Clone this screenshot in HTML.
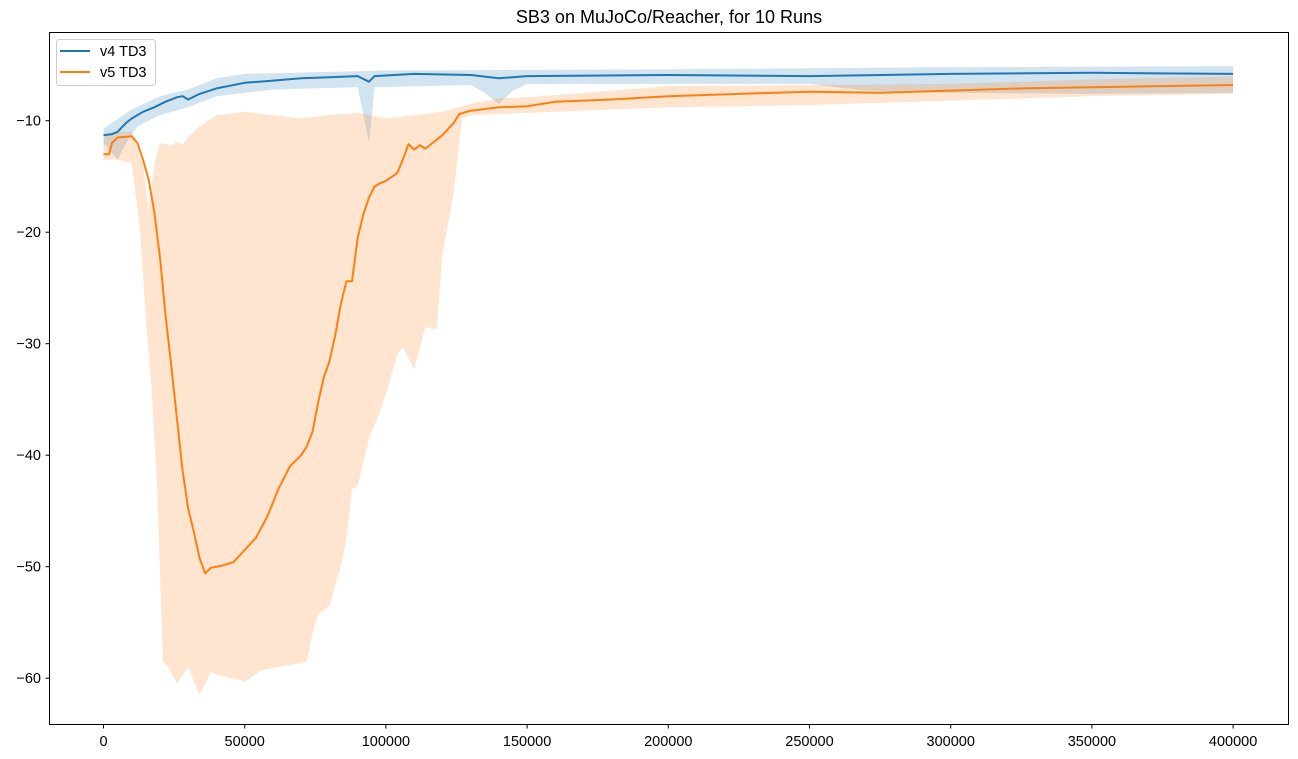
<!DOCTYPE html>
<html><head><meta charset="utf-8"><style>
body{margin:0;background:#fff;}
svg{display:block;font-family:"Liberation Sans","DejaVu Sans",sans-serif;}
</style></head><body>
<svg id="chart" width="1298" height="759" viewBox="0 0 1298 759">
<rect width="1298" height="759" fill="#fff"/>
<text x="669" y="23" text-anchor="middle" font-size="18">SB3 on MuJoCo/Reacher, for 10 Runs</text>
<g id="bands"></g><g id="lines"></g><g id="axes"></g>
<g>
<rect x="56.5" y="39.5" width="99" height="46" rx="3" fill="#fff" fill-opacity="0.8" stroke="#ccc"/>
<line x1="60" y1="51" x2="90" y2="51" stroke="#1f77b4" stroke-width="2"/>
<text x="100" y="56" font-size="14.5">v4 TD3</text>
<line x1="60" y1="72" x2="90" y2="72" stroke="#ff7f0e" stroke-width="2"/>
<text x="100" y="77" font-size="14.5">v5 TD3</text>
</g>
</svg>
<script>
const xTicks=[0,50000,100000,150000,200000,250000,300000,350000,400000];
const yTicks=[-10,-20,-30,-40,-50,-60];
const v5Steps=[0,2000,3000,5000,10000,12000,14000,16000,18000,20000,22000,24000,26000,28000,30000,32000,34000,36000,38000,42000,46000,50000,54000,58000,62000,66000,70000,72000,74000,76000,78000,80000,82000,84000,86000,88000,90000,92000,94000,96000,98000,100000,104000,106000,108000,110000,112000,114000,116000,120000,124000,126000,130000,140000,150000,160000,170000,180000,200000,225000,250000,275000,300000,325000,350000,375000,400000];
const v5Mean=[-13,-13,-12,-11.5,-11.4,-12,-13.5,-15.3,-18.2,-22.3,-27.5,-32,-36.7,-41.4,-44.8,-46.9,-49.2,-50.6,-50.1,-49.9,-49.6,-48.5,-47.4,-45.5,-43,-41,-40,-39.2,-37.9,-35.3,-33,-31.6,-29.3,-26.5,-24.4,-24.4,-20.5,-18.4,-16.9,-15.9,-15.6,-15.4,-14.7,-13.5,-12.1,-12.6,-12.2,-12.5,-12.1,-11.3,-10.2,-9.4,-9.1,-8.8,-8.7,-8.3,-8.2,-8.1,-7.8,-7.6,-7.4,-7.5,-7.3,-7.1,-7.0,-6.9,-6.8];
const v5UpSteps=[0,5000,10000,12000,14000,16000,18000,20000,24000,26000,28000,30000,34000,40000,50000,60000,70000,80000,90000,100000,110000,120000,130000,140000,150000,200000,250000,300000,350000,400000];
const v5Upper=[-11.5,-11,-11,-12.5,-14,-18,-14,-12,-12.2,-11.9,-12.1,-11.5,-10.5,-9.5,-9.2,-9.5,-9.8,-9.5,-9.3,-9.8,-9.5,-9.2,-8.5,-8.0,-7.9,-6.9,-6.8,-6.7,-6.3,-6.0];
const v5LoSteps=[0,5000,10000,13000,15000,17000,19000,21000,23000,26000,30000,34000,38000,42000,50000,56000,62000,68000,72000,74000,76000,80000,84000,86000,88000,90000,94000,98000,100000,104000,106000,110000,114000,118000,120000,124000,127000,130000,150000,200000,250000,300000,350000,400000];
const v5Lower=[-13.5,-13.5,-13.8,-20,-27.8,-34,-42.8,-58.5,-59,-60.5,-59,-61.5,-59.5,-59.8,-60.3,-59.3,-59,-58.7,-58.5,-56,-54.3,-53.5,-50,-47.5,-43,-42.8,-38.5,-36,-34.5,-31,-30.3,-32.3,-28.5,-28.7,-22,-16.5,-9.8,-9.5,-9.3,-8.8,-8.6,-8.2,-7.8,-7.6];
const v4Steps=[0,3000,5000,8000,10000,14000,18000,22000,26000,28000,30000,34000,40000,50000,60000,70000,80000,90000,94000,96000,110000,130000,140000,150000,200000,250000,300000,350000,400000];
const v4Mean=[-11.3,-11.2,-11,-10.2,-9.8,-9.2,-8.8,-8.3,-7.9,-7.8,-8.1,-7.6,-7.1,-6.6,-6.4,-6.2,-6.1,-6.0,-6.5,-6.0,-5.8,-5.9,-6.2,-6.0,-5.9,-6.0,-5.8,-5.7,-5.8];
const v4UpSteps=[0,10000,20000,30000,40000,50000,100000,200000,300000,400000];
const v4Upper=[-10.7,-9,-7.8,-7.2,-6.2,-5.8,-5.5,-5.4,-5.2,-5.1];
const v4LoSteps=[0,5000,8000,12000,20000,30000,40000,60000,90000,94000,96000,130000,135000,140000,145000,150000,250000,270000,300000,350000,400000];
const v4Lower=[-12,-13.5,-12,-10.5,-9.5,-8.8,-7.8,-7.2,-7,-12,-7,-6.8,-7.5,-8.5,-7.3,-6.7,-6.7,-7.3,-7.5,-7.6,-7.5];

const X=v=>103.5+v*(1129.6/400000);
const Y=v=>120.7+(-10-v)*11.15;
const NS='http://www.w3.org/2000/svg';
function mk(tag,attrs,parent){const e=document.createElementNS(NS,tag);for(const k in attrs)e.setAttribute(k,attrs[k]);parent.appendChild(e);return e;}
const bands=document.getElementById('bands'),lines=document.getElementById('lines'),axes=document.getElementById('axes');
function band(us,u,ls,l,color,name){
  let d='M'+us.map((s,i)=>X(s).toFixed(1)+','+Y(u[i]).toFixed(1)).join('L');
  for(let i=ls.length-1;i>=0;i--)d+='L'+X(ls[i]).toFixed(1)+','+Y(l[i]).toFixed(1);
  const p=mk('path',{d:d+'Z',fill:color,'fill-opacity':0.2},bands);
  
  
}
function line(s,m,color,name){
  const p=mk('polyline',{points:s.map((v,i)=>X(v).toFixed(1)+','+Y(m[i]).toFixed(1)).join(' '),fill:'none',stroke:color,'stroke-width':2,'stroke-linejoin':'round'},lines);
  
  
}
band(v4UpSteps,v4Upper,v4LoSteps,v4Lower,'#1f77b4','v4-band');
band(v5UpSteps,v5Upper,v5LoSteps,v5Lower,'#ff7f0e','v5-band');
line(v4Steps,v4Mean,'#1f77b4','v4-line');
line(v5Steps,v5Mean,'#ff7f0e','v5-line');
const frame=mk('rect',{x:49.5,y:32.5,width:1239,height:692,fill:'none',stroke:'#000','stroke-width':1},axes);


xTicks.forEach(t=>{
  mk('line',{x1:X(t),x2:X(t),y1:724.5,y2:728.5,stroke:'#000'},axes);
  const tx=mk('text',{x:X(t),y:746,'text-anchor':'middle','font-size':14.5},axes);
  tx.textContent=t;
  
  
});
yTicks.forEach(t=>{
  mk('line',{x1:45.5,x2:49.5,y1:Y(t),y2:Y(t),stroke:'#000'},axes);
  const tx=mk('text',{x:41,y:Y(t)+5,'text-anchor':'end','font-size':14.5},axes);
  tx.textContent='\u2212'+Math.abs(t);
  
  
});
</script>
</body></html>
